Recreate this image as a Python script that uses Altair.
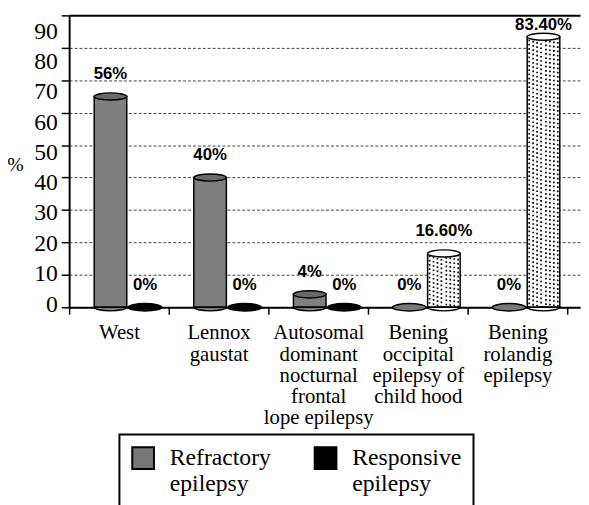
import altair as alt
import pandas as pd

categories = [
    "West",
    "Lennox\ngaustat",
    "Autosomal\ndominant\nnocturnal\nfrontal\nlope epilepsy",
    "Bening\noccipital\nepilepsy of\nchild hood",
    "Bening\nrolandig\nepilepsy",
]
series = ["Refractory epilepsy", "Responsive epilepsy"]
refractory = [65, 40, 4, 0, 0]
responsive = [0, 0, 0, 16.6, 83.4]
refractory_labels = ["56%", "40%", "4%", "0%", "0%"]
responsive_labels = ["0%", "0%", "0%", "16.60%", "83.40%"]
y_ticks = [0, 10, 20, 30, 40, 50, 60, 70, 80, 90]

rows = []
for i, c in enumerate(categories):
    rows.append({"category": c, "series": series[0], "value": refractory[i], "label": refractory_labels[i]})
    rows.append({"category": c, "series": series[1], "value": responsive[i], "label": responsive_labels[i]})
df = pd.DataFrame(rows)

SERIF = "'Liberation Serif', 'Times New Roman', Times, 'DejaVu Serif', serif"
SANS = "'Liberation Sans', Arial, Helvetica, sans-serif"

ELL = "M-1,0A1,0.22,0,1,0,1,0A1,0.22,0,1,0,-1,0Z"
HALF = "M-1,0A1,0.22,0,0,0,1,0Z"
GRAY = "#7f7f7f"
TOPGRAY = "#6a6a6a"

x_enc = alt.X(
    "category:N",
    sort=categories,
    scale=alt.Scale(paddingInner=0, paddingOuter=0.064, align=0),
    axis=alt.Axis(
        title=None,
        labelExpr="split(datum.label, '\\n')",
        labelFont=SERIF,
        labelFontSize=21,
        labelLineHeight=21.5,
        labelColor="black",
        labelAngle=0,
        labelPadding=8,
        labelOverlap=False,
        labelBound=False,
        labelLimit=300,
        domainColor="black",
        domainWidth=2,
        tickColor="black",
        tickWidth=1.5,
        tickSize=7,
        tickBand="extent",
        grid=False,
    ),
)
xo_enc = alt.XOffset(
    "series:N",
    sort=series,
    scale=alt.Scale(paddingInner=0.057, paddingOuter=0.471, align=0.77),
)
y_scale = alt.Scale(domain=[0, 90], nice=False)
y_axis = alt.Axis(
    values=y_ticks,
    title="%",
    titleAngle=0,
    titleFont=SERIF,
    titleFontSize=20,
    titleFontWeight="normal",
    titleColor="black",
    titleX=-55,
    titleY=151,
    titleAlign="center",
    titleBaseline="middle",
    labelFont=SERIF,
    labelFontSize=24,
    labelColor="black",
    labelPadding=4,
    labelOverlap=False,
    labelBound=False,
    labelOffset={
        "condition": [
            {"test": f"datum.value === {v}", "value": round(-3 + 0.211 * v)} for v in y_ticks if v > 0
        ],
        "value": -3,
    },
    domainColor="black",
    domainWidth=2,
    tickColor="black",
    tickWidth=1.5,
    tickSize=8,
    grid=True,
    gridColor={"condition": {"test": "datum.value === 90", "value": "black"}, "value": "#444444"},
    gridWidth={"condition": {"test": "datum.value === 90", "value": 2}, "value": 1},
    gridDash={"condition": {"test": "datum.value === 90", "value": []}, "value": [3, 2]},
)


def Y(field):
    return alt.Y(field, scale=y_scale, axis=y_axis, title="%")


base = alt.Chart(df).encode(x=x_enc, xOffset=xo_enc)

is_ref = "datum.series === 'Refractory epilepsy'"

bars = base.transform_filter("datum.value > 0").mark_bar(
    stroke="black", strokeWidth=1.5
).encode(
    y=Y("value:Q"),
    fill=alt.condition(is_ref, alt.value(GRAY), alt.value("white")),
)

dots = [
    base.transform_filter("datum.value > 0 && datum.series === 'Responsive epilepsy'").mark_bar(
        width=w, fillOpacity=0, stroke="black", strokeWidth=1.7, strokeDash=[1.7, 2.6]
    ).encode(y=Y("value:Q"))
    for w in [5, 13, 21, 29]
]

bottoms = base.transform_filter("datum.value > 0").transform_calculate(base0="0").mark_point(
    shape=HALF, size=1089, filled=True, opacity=1, stroke="black", strokeWidth=1.5
).encode(
    y=Y("base0:Q"),
    fill=alt.condition(is_ref, alt.value(GRAY), alt.value("white")),
)

tops = base.transform_filter("datum.value > 0").mark_point(
    shape=ELL, size=1089, filled=True, opacity=1, stroke="black", strokeWidth=1.5
).encode(
    y=Y("value:Q"),
    fill=alt.condition(is_ref, alt.value(TOPGRAY), alt.value("white")),
)

zeros = base.transform_filter("datum.value === 0").mark_point(
    shape=ELL, size=1150, filled=True, opacity=1, stroke="black", strokeWidth=1.5
).encode(
    y=Y("value:Q"),
    fill=alt.Fill(
        "series:N",
        sort=series,
        scale=alt.Scale(domain=series, range=["#777777", "#000000"]),
        legend=alt.Legend(
            title=None,
            orient="none",
            legendX=51,
            legendY=425,
            direction="horizontal",
            symbolType="square",
            symbolSize=484,
            symbolStrokeColor="black",
            symbolStrokeWidth=2,
            symbolOpacity=1,
            labelExpr="split(datum.label, ' ')",
            labelFont=SERIF,
            labelFontSize=24,
            labelColor="black",
            labelOffset=15,
            labelLimit=300,
            columnPadding=40,
            padding=12,
            strokeColor="black",
        ),
    ),
)

texts = base.transform_calculate(ty="min(datum.value + 7, 87)").mark_text(
    font=SANS, fontWeight="bold", fontSize=17, color="black", baseline="middle"
).encode(
    y=Y("ty:Q"),
    text="label:N",
)

chart = alt.layer(bars, *dots, bottoms, tops, zeros, texts).properties(
    width=518,
    height=296,
    autosize=alt.AutoSizeParams(type="none"),
    padding={"left": 62, "top": 4, "right": 1, "bottom": 197},
).configure_view(stroke=None).configure_legend(strokeWidth=2)

chart.save("out.html", embed_options={"renderer": "svg", "actions": False})
